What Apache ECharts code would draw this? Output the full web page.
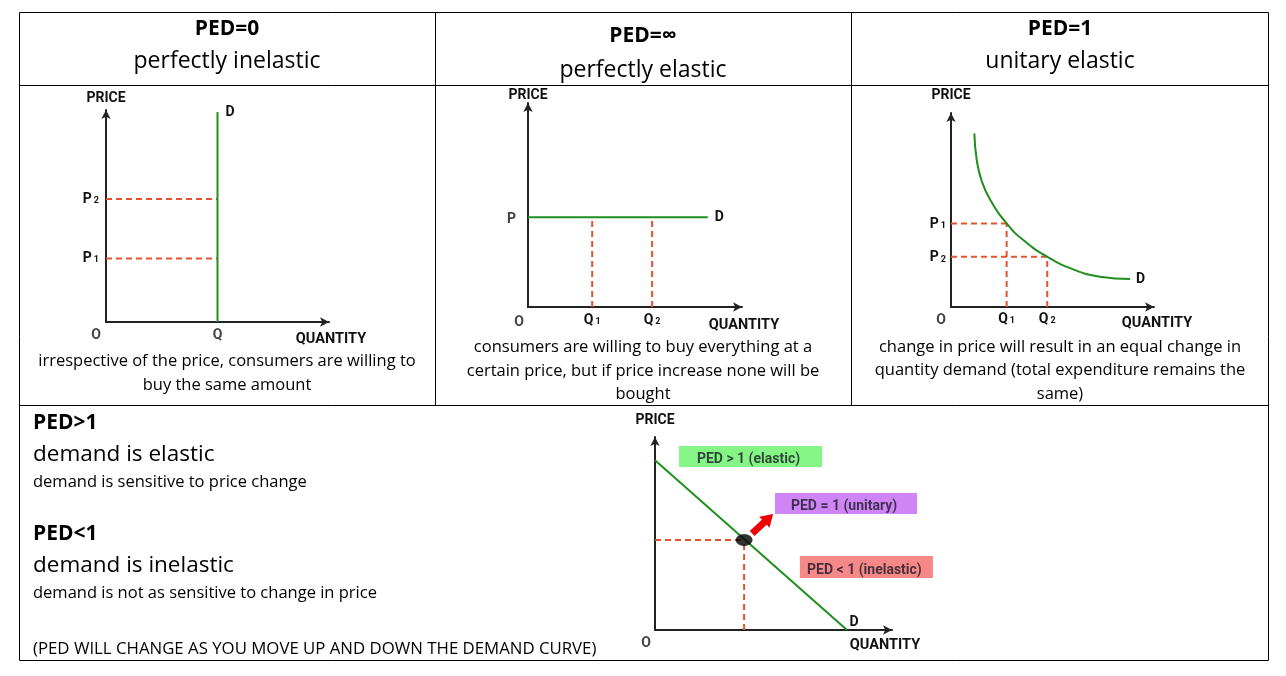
<!DOCTYPE html>
<html>
<head>
<meta charset="utf-8">
<script src="https://cdn.jsdelivr.net/npm/echarts@6/dist/echarts.min.js"></script>
<style>
html,body{margin:0;padding:0;background:#fff;}
#chart{width:1286px;height:676px;}
</style>
</head>
<body>
<div id="chart"></div>
<script>
// ---------- DATA (axis units 0..100 on every diagram) ----------
// Panel 1: PED = 0 (perfectly inelastic)
const inelasticDemand = [[50, 0], [50, 99]];
const inelasticPrices = [58, 30];
const inelasticPriceNames = ['P2', 'P1'];
const inelasticQtyName = 'Q';

// Panel 2: PED = ∞ (perfectly elastic)
const elasticDemand = [[0, 44], [84, 44]];
const elasticQuantities = [30, 58];
const elasticQtyNames = ['Q1', 'Q2'];
const elasticPriceName = 'P';

// Panel 3: PED = 1 (unitary elastic)
const unitaryDemand = [[11.5, 89.5], [12.7, 75.6], [15.1, 65.0], [19.2, 55.5], [27.4, 43.1],
  [35.6, 34.5], [47.4, 25.9], [60.2, 19.4], [73.4, 15.6], [88.2, 14.4]];
const unitaryQuantities = [27.4, 47.4];
const unitaryPrices = [43.1, 25.9];
const unitaryQtyNames = ['Q1', 'Q2'];
const unitaryPriceNames = ['P1', 'P2'];

// Panel 4: linear demand curve
const linearDemand = [[0, 88], [81, 0]];
const unitPoint = [37.6, 46.6];
const zoneLabels = ['PED > 1 (elastic)', 'PED = 1 (unitary)', 'PED < 1 (inelastic)'];
const zonePoints = [[40.3, 89.9], [80.6, 65.5], [89.2, 32.6]];
const arrowFrom = [41.0, 50.0];
const arrowTo = [48.0, 58.0];

// Texts
const headTitles = ['PED=0', 'PED=\u221E', 'PED=1'];
const headSubtitles = ['perfectly inelastic', 'perfectly elastic', 'unitary elastic'];
const captions = [
  ['irrespective of the price, consumers are willing to', 'buy the same amount'],
  ['consumers are willing to buy everything at a', 'certain price, but if price increase none will be', 'bought'],
  ['change in price will result in an equal change in', 'quantity demand (total expenditure remains the', 'same)']
];
const notes = [
  ['PED>1', 'demand is elastic', 'demand is sensitive to price change'],
  ['PED<1', 'demand is inelastic', 'demand is not as sensitive to change in price']
];
const footNote = '(PED WILL CHANGE AS YOU MOVE UP AND DOWN THE DEMAND CURVE)';

// ---------- STYLE ----------
const GREEN = '#1f8f1f';
const DASH = '#e4532d';
const AXIS = '#222';
const LBL = {fontFamily: 'Roboto', fontWeight: 'bold', fontSize: 14, color: '#111'};
const RICH = {
  b: {fontFamily: 'Roboto', fontWeight: 'bold', fontSize: 14, color: '#111'},
  s: {fontFamily: 'Roboto', fontWeight: 'bold', fontSize: 9, color: '#111', padding: [3, 0, 0, 2]}
};
function sub(name) {
  return name.length > 1 ? '{b|' + name[0] + '}{s|' + name.slice(1) + '}' : '{b|' + name + '}';
}

const grids = [
  {left: 106, top: 110, width: 223, height: 212},
  {left: 528, top: 103, width: 214, height: 204},
  {left: 951, top: 113, width: 203, height: 194},
  {left: 655, top: 437, width: 237, height: 193}
];
const xNameCfg = [
  {gap: 2, pad: 10}, {gap: 2, pad: 11}, {gap: 3, pad: 9}, {gap: -7, pad: 8}
];
const yNameGap = [12, 8, 18, 17];

const xAxes = grids.map((g, i) => ({
  type: 'value', gridIndex: i, min: 0, max: 100,
  name: 'QUANTITY', nameLocation: 'end', nameGap: xNameCfg[i].gap,
  nameTextStyle: Object.assign({}, LBL, {fontSize: 14.5, align: 'center', verticalAlign: 'top', padding: [xNameCfg[i].pad, 0, 0, 0]}),
  axisLine: {show: true, onZero: false, symbol: ['none', 'arrow'], symbolSize: [7, 9], lineStyle: {color: AXIS, width: 2}},
  axisTick: {show: false}, axisLabel: {show: false}, splitLine: {show: false}
}));
const yAxes = grids.map((g, i) => ({
  type: 'value', gridIndex: i, min: 0, max: 100,
  name: 'PRICE', nameLocation: 'end', nameGap: yNameGap[i],
  nameTextStyle: Object.assign({}, LBL, {fontSize: 14, align: 'center', verticalAlign: 'middle'}),
  axisLine: {show: true, onZero: false, symbol: ['none', 'arrow'], symbolSize: [7, 9], lineStyle: {color: AXIS, width: 2}},
  axisTick: {show: false}, axisLabel: {show: false}, splitLine: {show: false}
}));

const dashStyle = {color: DASH, width: 2, type: [6, 4]};
const series = [];

function dashed(i, data, labelIdx, label) {
  const d = data.map((p, k) => {
    if (k === labelIdx && label) {
      return {value: p, label: Object.assign({show: true, formatter: sub(label.text), rich: RICH}, label.opt)};
    }
    return {value: p};
  });
  series.push({type: 'line', xAxisIndex: i, yAxisIndex: i, data: d, symbol: 'circle', symbolSize: 0,
    showSymbol: true, lineStyle: dashStyle, z: 2, silent: true, animation: false});
}
function demand(i, data, smooth, endLabelOpt) {
  const d = data.map((p, k) => k === data.length - 1
    ? {value: p, label: Object.assign({show: true, formatter: '{b|D}', rich: RICH}, endLabelOpt)}
    : {value: p});
  series.push({type: 'line', xAxisIndex: i, yAxisIndex: i, data: d, smooth: smooth,
    symbol: 'circle', symbolSize: 0, showSymbol: true,
    lineStyle: {color: GREEN, width: 2}, z: 3, silent: true, animation: false});
}
function origin(i, offset) {
  series.push({type: 'scatter', xAxisIndex: i, yAxisIndex: i, symbolSize: 0, silent: true, animation: false,
    data: [{value: [0, 0], label: {show: true, formatter: '{b|O}', rich: RICH, position: 'bottom', distance: offset[1], offset: [offset[0], 0]}}]});
}

// Panel 1
demand(0, inelasticDemand, false, {position: 'right', distance: 8, offset: [0, 0]});
inelasticPrices.forEach((p, k) => {
  dashed(0, [[0, p], [inelasticDemand[0][0], p]], 0, {text: inelasticPriceNames[k], opt: {position: 'left', distance: 7}});
});
series.push({type: 'scatter', xAxisIndex: 0, yAxisIndex: 0, symbolSize: 0, silent: true, animation: false,
  data: [{value: [inelasticDemand[0][0], 0], label: {show: true, formatter: sub(inelasticQtyName), rich: RICH, position: 'bottom', distance: 6}}]});
origin(0, [-10, 6]);

// Panel 2
demand(1, elasticDemand, false, {position: 'right', distance: 7});
series.push({type: 'scatter', xAxisIndex: 1, yAxisIndex: 1, symbolSize: 0, silent: true, animation: false,
  data: [{value: elasticDemand[0], label: {show: true, formatter: sub(elasticPriceName), rich: RICH, position: 'left', distance: 12, offset: [0, 2]}}]});
elasticQuantities.forEach((q, k) => {
  dashed(1, [[q, 0], [q, elasticDemand[0][1]]], 0, {text: elasticQtyNames[k], opt: {position: 'bottom', distance: 6}});
});
origin(1, [-9, 8]);

// Panel 3
demand(2, unitaryDemand, 0.5, {position: 'right', distance: 6});
unitaryQuantities.forEach((q, k) => {
  const p = unitaryPrices[k];
  dashed(2, [[0, p], [q, p]], 0, {text: unitaryPriceNames[k], opt: {position: 'left', distance: 5, offset: [0, 1]}});
  dashed(2, [[q, 0], [q, p]], 0, {text: unitaryQtyNames[k], opt: {position: 'bottom', distance: 5}});
});
origin(2, [-10, 6]);

// Panel 4
demand(3, linearDemand, false, {position: 'top', distance: 1, offset: [7, 0]});
dashed(3, [[0, unitPoint[1]], unitPoint], -1);
dashed(3, [[unitPoint[0], 0], unitPoint], -1);
origin(3, [-9, 6]);
series.push({type: 'scatter', xAxisIndex: 3, yAxisIndex: 3, symbol: 'circle', symbolSize: [17, 12],
  itemStyle: {color: '#000'}, data: [unitPoint], z: 5, silent: true, animation: false});
const zoneColors = ['#66f466', '#c466f4', '#f56a6a'];
const zoneSizes = [[143, 21], [142, 21], [133, 22]];
series.push({type: 'scatter', xAxisIndex: 3, yAxisIndex: 3, symbol: 'rect', z: 4, silent: true, animation: false,
  data: zoneLabels.map((t, k) => ({
    name: t, value: zonePoints[k], symbolSize: zoneSizes[k], itemStyle: {color: zoneColors[k]},
    label: {show: true, position: 'inside', offset: [-2, 3], formatter: t, fontFamily: 'Roboto', fontWeight: 'bold', fontSize: 14, color: '#1a1a28'}
  }))});
series.push({type: 'line', xAxisIndex: 3, yAxisIndex: 3, data: [], silent: true, animation: false,
  markLine: {silent: true, animation: false, symbol: ['none', 'triangle'], symbolSize: [15, 12], label: {show: false},
    lineStyle: {color: '#f00000', width: 7, type: 'solid'},
    data: [[{coord: arrowFrom}, {coord: arrowTo}]]}});

// ---------- TABLE & TEXT ----------
const graphic = [];
function line(x1, y1, x2, y2) {
  graphic.push({type: 'line', silent: true, shape: {x1, y1, x2, y2}, style: {stroke: '#000', lineWidth: 1}});
}
function text(x, y, t, font, align) {
  graphic.push({type: 'text', silent: true, x, y, style: {text: t, font, fill: '#000', align: align || 'center', verticalAlign: 'middle'}});
}
graphic.push({type: 'rect', silent: true, shape: {x: 19.5, y: 12.5, width: 1249, height: 648}, style: {fill: 'none', stroke: '#000', lineWidth: 1}});
line(19.5, 85.5, 1268.5, 85.5);
line(19.5, 405.5, 1268.5, 405.5);
line(435.5, 12.5, 435.5, 405.5);
line(851.5, 12.5, 851.5, 405.5);

const colX = [227, 643, 1060];
const titleY = [[29, 61], [36, 70], [29, 61]];
headTitles.forEach((t, i) => {
  text(colX[i], titleY[i][0], t, 'bold 21px "Open Sans", "DejaVu Sans"');
  text(colX[i], titleY[i][1], headSubtitles[i], '23px "Open Sans"');
});
const capY = [[361, 385], [347, 371, 394], [347, 370, 394]];
captions.forEach((lines, i) => {
  lines.forEach((l, k) => text(colX[i], capY[i][k], l, '16.5px "Open Sans"'));
});
const noteY = [[423, 455, 482], [534, 566, 593]];
notes.forEach((n, i) => {
  text(33, noteY[i][0], n[0], 'bold 21px "Open Sans"', 'left');
  text(33, noteY[i][1], n[1], '22.5px "Open Sans"', 'left');
  text(33, noteY[i][2], n[2], '16.5px "Open Sans"', 'left');
});
text(33, 649, footNote, '16.8px "Open Sans"', 'left');

const chart = echarts.init(document.getElementById('chart'), null, {renderer: 'canvas'});
chart.setOption({
  animation: false,
  backgroundColor: '#fff',
  grid: grids,
  xAxis: xAxes,
  yAxis: yAxes,
  series: series,
  graphic: graphic
});
</script>
</body>
</html>
